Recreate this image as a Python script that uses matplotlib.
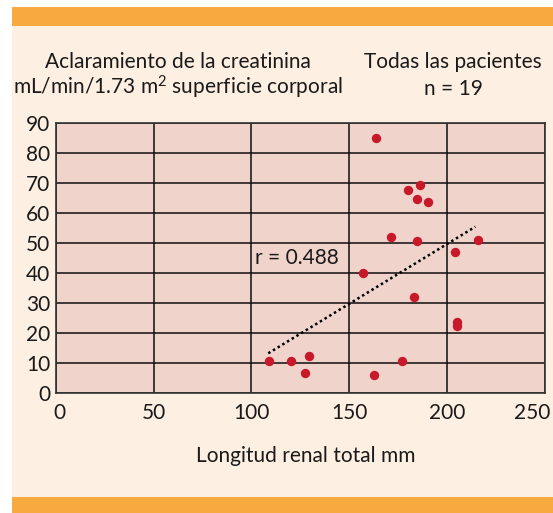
import matplotlib
matplotlib.use("Agg")
import matplotlib.pyplot as plt
import matplotlib.transforms as mtransforms
from matplotlib.patches import Rectangle

# ---- data ----
longitud = [163.8, 180.0, 186.3, 184.8, 190.1, 171.2, 184.8, 215.9, 204.2, 157.0,
            183.1, 205.2, 205.2, 109.2, 120.4, 129.6, 127.4, 177.0, 162.6]
aclaramiento = [84.8, 67.6, 69.2, 64.6, 63.7, 52.1, 50.6, 51.1, 47.0, 40.1,
                31.9, 23.8, 22.3, 10.8, 10.6, 12.3, 6.8, 10.8, 6.1]
trend_x = [108.6, 214.4]
trend_y = [13.3, 55.4]
x_ticks = [0, 50, 100, 150, 200, 250]
y_ticks = [0, 10, 20, 30, 40, 50, 60, 70, 80, 90]
r_label = "r = 0.488"
title_left = ["Aclaramiento de la creatinina", "mL/min/1.73 m$^2$ superficie corporal"]
title_right = ["Todas las pacientes", "n = 19"]
x_label = "Longitud renal total mm"

W, H = 553, 513
plt.rcParams['font.family'] = ['Lato', 'DejaVu Sans']
plt.rcParams['mathtext.fontset'] = 'custom'
plt.rcParams['mathtext.rm'] = 'Lato'
plt.rcParams['mathtext.it'] = 'Lato'
fig = plt.figure(figsize=(W / 100, H / 100), dpi=100)
fig.patch.set_facecolor('white')

def fx(px):
    return px / W

def fy(py):
    return 1 - py / H

cream = '#FDF0E2'
orange = '#F8A940'
txt = '#1a1a1a'
fs = 15

fig.patches.append(Rectangle((fx(12), 0), 1 - fx(12), 1 - 7.3 / H, transform=fig.transFigure,
                             facecolor=cream, edgecolor='none', zorder=0))
fig.patches.append(Rectangle((fx(12), fy(25.7)), 1 - fx(12), (25.7 - 7.3) / H, transform=fig.transFigure,
                             facecolor=orange, edgecolor='none', zorder=1))
fig.patches.append(Rectangle((fx(12), 0), 1 - fx(12), (513 - 497) / H, transform=fig.transFigure,
                             facecolor=orange, edgecolor='none', zorder=1))

ax = fig.add_axes([fx(55.7), fy(393.3), fx(545) - fx(55.7), fy(122.7) - fy(393.3)])
ax.set_zorder(5)
ax.set_facecolor('#F0D4CB')
ax.set_xlim(0, 250)
ax.set_ylim(0, 90)
ax.set_xticks(x_ticks)
ax.set_yticks(y_ticks)
ax.grid(True, color='#0d0d0d', linewidth=1.1)
ax.set_axisbelow(True)
for s in ax.spines.values():
    s.set_color('#333333')
    s.set_linewidth(1.2)
ax.tick_params(length=0, labelsize=fs, colors=txt)
ax.tick_params(axis='x', pad=7)
ax.tick_params(axis='y', pad=4)

xl = ax.get_xticklabels()
xl[0].set_transform(xl[0].get_transform() + mtransforms.ScaledTranslation(4 / 100, 0, fig.dpi_scale_trans))
xl[-1].set_transform(xl[-1].get_transform() + mtransforms.ScaledTranslation(-13 / 100, 0, fig.dpi_scale_trans))

ax.plot(trend_x, trend_y, color='black', linestyle=(0, (1, 1.2)), linewidth=1.8, zorder=3)
ax.scatter(longitud, aclaramiento, s=46, color='#C8192B', zorder=4, linewidths=0)
fig.text(fx(255), fy(258), r_label, fontsize=fs, color=txt, va='center', ha='left', zorder=10)

fig.text(fx(178), fy(67.7), title_left[0], fontsize=fs, color=txt, ha='center', va='baseline')
fig.text(fx(178), fy(95), title_left[1], fontsize=fs, color=txt, ha='center', va='baseline')
fig.text(fx(453), fy(67.7), title_right[0], fontsize=fs, color=txt, ha='center', va='baseline')
fig.text(fx(453), fy(95), title_right[1], fontsize=fs, color=txt, ha='center', va='baseline')
fig.text(fx(306), fy(456), x_label, fontsize=fs, color=txt, ha='center', va='center')

fig.savefig('out.png', dpi=100, facecolor=fig.get_facecolor())
